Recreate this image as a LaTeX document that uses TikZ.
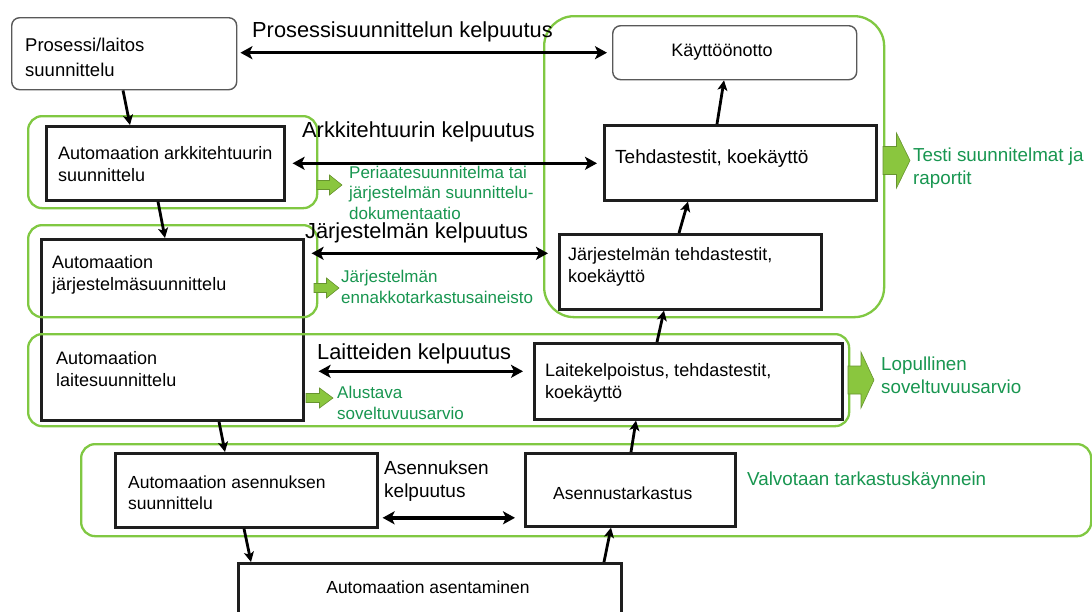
\documentclass[tikz,border=0pt]{standalone}
\usepackage{fontspec}
\setmainfont{Liberation Sans}
\usetikzlibrary{arrows.meta}
\definecolor{frameg}{RGB}{128,200,66}
\definecolor{textg}{RGB}{24,150,80}
\definecolor{arrg}{RGB}{138,198,62}
\definecolor{boxk}{RGB}{30,30,30}
\newcommand{\garrow}[6]{% name, x, y, length, shaft half, head half
  \filldraw[gblk] (#2,#3-#5) -- (#2+0.5*#4,#3-#5) -- (#2+0.5*#4,#3-#6) -- (#2+#4,#3)
    -- (#2+0.5*#4,#3+#6) -- (#2+0.5*#4,#3+#5) -- (#2,#3+#5) -- cycle;
  \coordinate (#1) at (#2,#3);}
\begin{document}
\begin{tikzpicture}[x=1pt,y=-1pt,
  box/.style={draw=boxk, line width=2.6pt, fill=white, anchor=north west, inner sep=0pt},
  rbox/.style={draw=black!65, line width=1.4pt, fill=white, rounded corners=8pt, anchor=north west, inner sep=0pt},
  grp/.style={draw=frameg, line width=2.3pt, rounded corners=14pt, anchor=north west, inner sep=0pt},
  txt/.style={anchor=west, align=left, inner sep=0pt, font=\fontsize{18}{22}\selectfont},
  stxt/.style={anchor=west, align=left, inner sep=0pt, font=\fontsize{17.5}{21}\selectfont},
  lbl/.style={anchor=west, align=left, inner sep=0pt, font=\fontsize{21.8}{26}\selectfont},
  gtxt/.style={anchor=west, align=left, inner sep=0pt, text=textg, font=\fontsize{17}{20.5}\selectfont},
  gbig/.style={anchor=west, align=left, inner sep=0pt, text=textg, font=\fontsize{18.8}{23}\selectfont},
  gblk/.style={draw=arrg!75!black, line width=0.6pt, fill=arrg},
  arr/.style={draw=black, line width=2.8pt, -{Stealth[length=10pt,width=10pt,inset=2.5pt]}},
  dbl/.style={draw=black, line width=3.4pt, {Stealth[length=12pt,width=13pt,inset=3pt]}-{Stealth[length=12pt,width=13pt,inset=3pt]}}
]
\fill[white] (0,0) rectangle (1092,611);
\useasboundingbox (0,0) rectangle (1092,611);

% boxes
\node[rbox, minimum width=225pt, minimum height=72pt] (proc) at (11,17) {};
\node[rbox, minimum width=244pt, minimum height=54pt] (kaytto) at (612,25) {};
\node[box, minimum width=238pt, minimum height=74pt] (arkk) at (45,125) {};
\node[box, minimum width=272pt, minimum height=75pt] (tehd) at (603,124) {};
\node[box, minimum width=262pt, minimum height=181pt] (jarj) at (40,238) {};
\node[box, minimum width=262pt, minimum height=75pt] (jt) at (558,233) {};
\node[box, minimum width=308pt, minimum height=76pt] (lk) at (533,342) {};
\node[box, minimum width=262pt, minimum height=74pt] (asu) at (114,452) {};
\node[box, minimum width=210pt, minimum height=73pt] (ast) at (524,452) {};
\node[box, minimum width=383pt, minimum height=70pt] (asent) at (237,562) {};

% green frames
\node[grp, minimum width=289pt, minimum height=92pt] (garkk) at (27,115) {};
\node[grp, minimum width=289pt, minimum height=92pt] (gjarj) at (27,224) {};
\node[grp, minimum width=821pt, minimum height=92pt] (glaite) at (27,333) {};
\node[grp, rounded corners=30pt, minimum width=340pt, minimum height=301pt] (gbig) at (543,15) {};
\node[grp, minimum width=1010pt, minimum height=92pt] (gasen) at (80,443) {};

% box texts
\node[txt, font=\fontsize{18.5}{25}\selectfont] (proct) at (25,57) {Prosessi/laitos\\suunnittelu};
\node[txt, anchor=center] (kayttot) at (722,52) {Käyttöönotto};
\node[txt] (arkkt) at (58,164) {Automaation arkkitehtuurin\\suunnittelu};
\node[txt, font=\fontsize{19}{22}\selectfont] (tehdt) at (615,159) {Tehdastestit, koekäyttö};
\node[txt] (jarjt) at (52,275) {Automaation\\järjestelmäsuunnittelu};
\node[txt] (laitet) at (56,369) {Automaation\\laitesuunnittelu};
\node[txt] (jtt) at (568,266.5) {Järjestelmän tehdastestit,\\koekäyttö};
\node[txt] (lkt) at (545,382.5) {Laitekelpoistus, tehdastestit,\\koekäyttö};
\node[stxt] (asut) at (128,492.5) {Automaation asennuksen\\suunnittelu};
\node[stxt] (astt) at (553,493) {Asennustarkastus};
\node[stxt, anchor=center] (asentt) at (428,587) {Automaation asentaminen};

% labels
\node[lbl] (l1) at (252,32) {Prosessisuunnittelun kelpuutus};
\node[lbl] (l2) at (302,132) {Arkkitehtuurin kelpuutus};
\node[lbl] (l3) at (305,233) {Järjestelmän kelpuutus};
\node[lbl] (l4) at (317,354) {Laitteiden kelpuutus};
\node[lbl, font=\fontsize{19}{22.5}\selectfont] (l5) at (384,481) {Asennuksen\\kelpuutus};

% green texts and block arrows
\garrow{ga1}{317}{185}{25}{4.5}{10}
\node[gtxt] (g1) at (349,192.5) {Periaatesuunnitelma tai\\järjestelmän suunnittelu-\\dokumentaatio};
\garrow{ga2}{314}{288}{25}{4.5}{10}
\node[gtxt] (g2) at (341,287) {Järjestelmän\\ennakkotarkastusaineisto};
\garrow{ga3}{306}{398}{27}{4.5}{10}
\node[gtxt] (g3) at (337,403) {Alustava\\soveltuvuusarvio};
\garrow{ga4}{883}{160.5}{27}{14}{27.5}
\node[gbig] (g4) at (913,168.5) {Testi suunnitelmat ja\\raportit};
\garrow{ga5}{848}{380}{26}{14}{28}
\node[gbig] (g5) at (881,375) {Lopullinen\\soveltuvuusarvio};
\node[gbig] (g6) at (747,481) {Valvotaan tarkastuskäynnein};

% double arrows
\draw[dbl, shorten <=3pt, shorten >=5pt] (kaytto.west -| proc.east) -- (kaytto.west);
\draw[dbl, shorten <=7pt, shorten >=6pt] (arkk.east) -- (arkk.east -| tehd.west);
\coordinate (jk) at ([yshift=18.5pt]jt.west);
\draw[dbl, shorten <=7pt, shorten >=10pt] (jk -| jarj.east) -- (jk);
\coordinate (lkk) at ([yshift=10pt]lk.west);
\draw[dbl, shorten <=14pt, shorten >=10pt] (lkk -| jarj.east) -- (lkk);
\coordinate (ak) at ([yshift=-28pt]ast.west);
\draw[dbl, shorten <=4pt, shorten >=9pt] (ak -| asu.east) -- (ak);

% flow arrows
\draw[arr] ([xshift=112pt]proc.south west) -- ([xshift=85pt]arkk.north west);
\draw[arr] ([xshift=113pt]arkk.south west) -- ([xshift=125pt]jarj.north west);
\draw[arr] ([xshift=179pt]jarj.south west) -- ([xshift=111pt]asu.north west);
\draw[arr] ([xshift=130pt]asu.south west) -- ([xshift=14pt]asent.north west);
\draw[arr] ([xshift=367pt]asent.north west) -- ([xshift=87pt]ast.south west);
\draw[arr] ([xshift=107pt]ast.north west) -- ([xshift=103pt]lk.south west);
\draw[arr] ([xshift=124pt]lk.north west) -- ([xshift=106pt]jt.south west);
\draw[arr] ([xshift=121pt]jt.north west) -- ([xshift=85pt]tehd.south west);
\draw[arr] ([xshift=114pt]tehd.north west) -- ([xshift=112pt]kaytto.south west);
\end{tikzpicture}
\end{document}
